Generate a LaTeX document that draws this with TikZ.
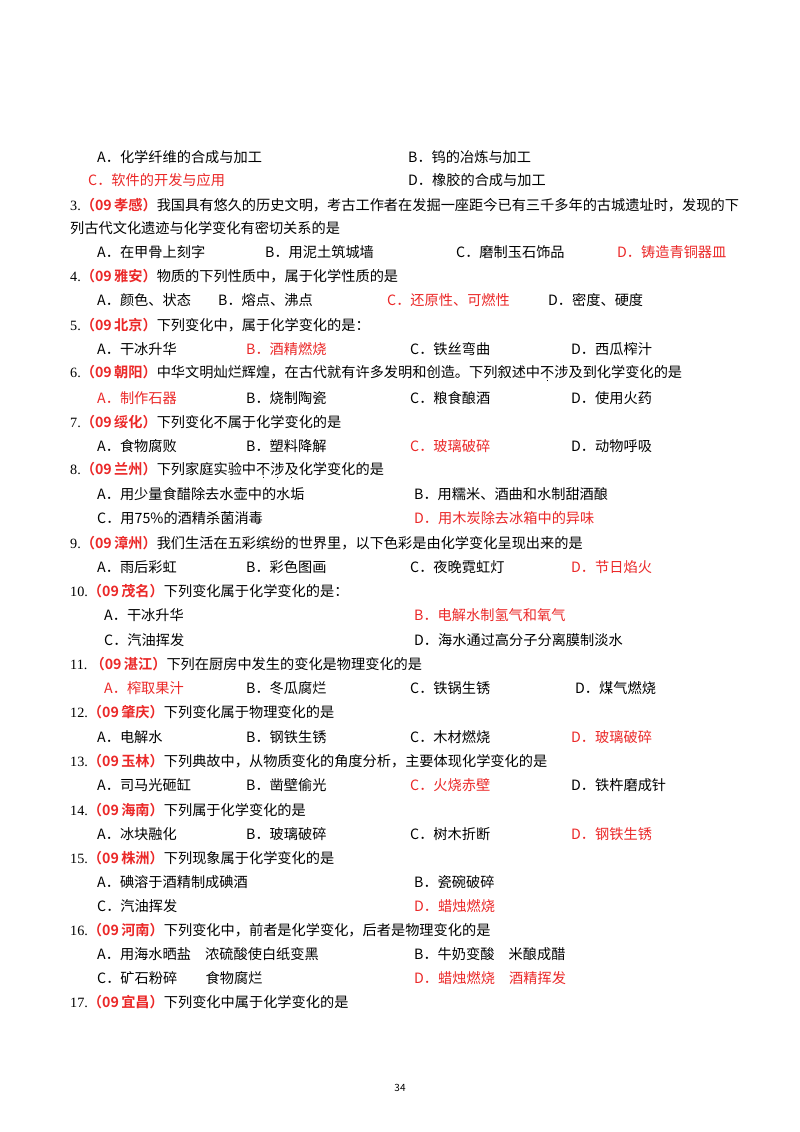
\documentclass[tikz,border=0pt]{standalone}
\usepackage{fontspec}
\setmainfont{Noto Sans CJK SC}
\newfontfamily\numf{Liberation Serif}
\newfontfamily\bldf{Noto Sans CJK SC Bold}
\definecolor{ansred}{RGB}{235,40,40}
\newcommand{\lab}[1]{{\bldf\color{ansred}（09\,#1）}}
\newcommand{\qn}[1]{{\numf #1.}}
\newcommand{\ed}[1]{\leavevmode\rlap{\hbox to 1em{\hss\raisebox{-4pt}{\rule{1.5pt}{1.5pt}}\hss}}#1}
\begin{document}
\begin{tikzpicture}[x=1pt,y=-1pt,every node/.style={anchor=west,inner sep=0pt,font=\fontsize{14.2}{14.2}\selectfont},
 red/.style={text=ansred}]
\useasboundingbox[fill=white] (0,0) rectangle (800,1132);
% Q2 options
\node (a1) at (97,157) {A．化学纤维的合成与加工};
\node (b1) at (408,157) {B．钨的冶炼与加工};
\node[red] (c1) at (88,180) {C．软件的开发与应用};
\node (d1) at (408,180) {D．橡胶的合成与加工};
% Q3
\node (q3) at (70,205) {\qn{3}\lab{孝感}我国具有悠久的历史文明，考古工作者在发掘一座距今已有三千多年的古城遗址时，发现的下};
\node (q3b) at (70,228) {列古代文化遗迹与化学变化有密切关系的是};
\node (a3) at (97,252) {A．在甲骨上刻字};
\node (b3) at (265,252) {B．用泥土筑城墙};
\node (c3) at (456,252) {C．磨制玉石饰品};
\node[red] (d3) at (617,252) {D．铸造青铜器皿};
% Q4
\node (q4) at (70,276) {\qn{4}\lab{雅安}物质的下列性质中，属于化学性质的是};
\node (a4) at (97,300) {A．颜色、状态};
\node (b4) at (218,300) {B．熔点、沸点};
\node[red] (c4) at (387,300) {C．还原性、可燃性};
\node (d4) at (548,300) {D．密度、硬度};
% Q5
\node (q5) at (70,325) {\qn{5}\lab{北京}下列变化中，属于化学变化的是：};
\node (a5) at (97,349) {A．干冰升华};
\node[red] (b5) at (246,349) {B．酒精燃烧};
\node (c5) at (410,349) {C．铁丝弯曲};
\node (d5) at (571,349) {D．西瓜榨汁};
% Q6
\node (q6) at (70,373) {\qn{6}\lab{朝阳}中华文明灿烂辉煌，在古代就有许多发明和创造。下列叙述中\ed{不}涉及到化学变化的是};
\node[red] (a6) at (97,398) {A．制作石器};
\node (b6) at (246,398) {B．烧制陶瓷};
\node (c6) at (410,398) {C．粮食酿酒};
\node (d6) at (571,398) {D．使用火药};
% Q7
\node (q7) at (70,422) {\qn{7}\lab{绥化}下列变化不属于化学变化的是};
\node (a7) at (97,446) {A．食物腐败};
\node (b7) at (246,446) {B．塑料降解};
\node[red] (c7) at (410,446) {C．玻璃破碎};
\node (d7) at (571,446) {D．动物呼吸};
% Q8
\node (q8) at (70,470) {\qn{8}\lab{兰州}下列家庭实验中\ed{不}\ed{涉}\ed{及}化学变化的是};
\node (a8) at (97,494) {A．用少量食醋除去水壶中的水垢};
\node (b8) at (414,494) {B．用糯米、酒曲和水制甜酒酿};
\node (c8) at (97,518) {C．用75\%的酒精杀菌消毒};
\node[red] (d8) at (414,518) {D．用木炭除去冰箱中的异味};
% Q9
\node (q9) at (70,543) {\qn{9}\lab{漳州}我们生活在五彩缤纷的世界里，以下色彩是由化学变化呈现出来的是};
\node (a9) at (97,567) {A．雨后彩虹};
\node (b9) at (246,567) {B．彩色图画};
\node (c9) at (410,567) {C．夜晚霓虹灯};
\node[red] (d9) at (571,567) {D．节日焰火};
% Q10
\node (q10) at (70,591) {\qn{10}\lab{茂名}下列变化属于化学变化的是：};
\node (a10) at (104,615) {A．干冰升华};
\node[red] (b10) at (414,615) {B．电解水制氢气和氧气};
\node (c10) at (104,640) {C．汽油挥发};
\node (d10) at (414,640) {D．海水通过高分子分离膜制淡水};
% Q11
\node (q11) at (70,664) {\qn{11}\ \lab{湛江}下列在厨房中发生的变化是物理变化的是};
\node[red] (a11) at (104,688) {A．榨取果汁};
\node (b11) at (246,688) {B．冬瓜腐烂};
\node (c11) at (410,688) {C．铁锅生锈};
\node (d11) at (575,688) {D．煤气燃烧};
% Q12
\node (q12) at (70,712) {\qn{12}\lab{肇庆}下列变化属于物理变化的是};
\node (a12) at (97,737) {A．电解水};
\node (b12) at (246,737) {B．钢铁生锈};
\node (c12) at (410,737) {C．木材燃烧};
\node[red] (d12) at (571,737) {D．玻璃破碎};
% Q13
\node (q13) at (70,761) {\qn{13}\lab{玉林}下列典故中，从物质变化的角度分析，主要体现化学变化的是};
\node (a13) at (97,785) {A．司马光砸缸};
\node (b13) at (246,785) {B．凿壁偷光};
\node[red] (c13) at (410,785) {C．火烧赤壁};
\node (d13) at (571,785) {D．铁杵磨成针};
% Q14
\node (q14) at (70,810) {\qn{14}\lab{海南}下列属于化学变化的是};
\node (a14) at (97,834) {A．冰块融化};
\node (b14) at (246,834) {B．玻璃破碎};
\node (c14) at (410,834) {C．树木折断};
\node[red] (d14) at (571,834) {D．钢铁生锈};
% Q15
\node (q15) at (70,858) {\qn{15}\lab{株洲}下列现象属于化学变化的是};
\node (a15) at (97,882) {A．碘溶于酒精制成碘酒};
\node (b15) at (414,882) {B．瓷碗破碎};
\node (c15) at (97,906) {C．汽油挥发};
\node[red] (d15) at (414,906) {D．蜡烛燃烧};
% Q16
\node (q16) at (70,930) {\qn{16}\lab{河南}下列变化中，前者是化学变化，后者是物理变化的是};
\node (a16) at (97,954) {A．用海水晒盐\quad 浓硫酸使白纸变黑};
\node (b16) at (414,954) {B．牛奶变酸\quad 米酿成醋};
\node (c16) at (97,978) {C．矿石粉碎\qquad 食物腐烂};
\node[red] (d16) at (414,978) {D．蜡烛燃烧\quad 酒精挥发};
% Q17
\node (q17) at (70,1002) {\qn{17}\lab{宜昌}下列变化中属于化学变化的是};
\node[anchor=center,font=\fontsize{10}{10}\selectfont] (pg) at (400,1088) {34};
\end{tikzpicture}
\end{document}
